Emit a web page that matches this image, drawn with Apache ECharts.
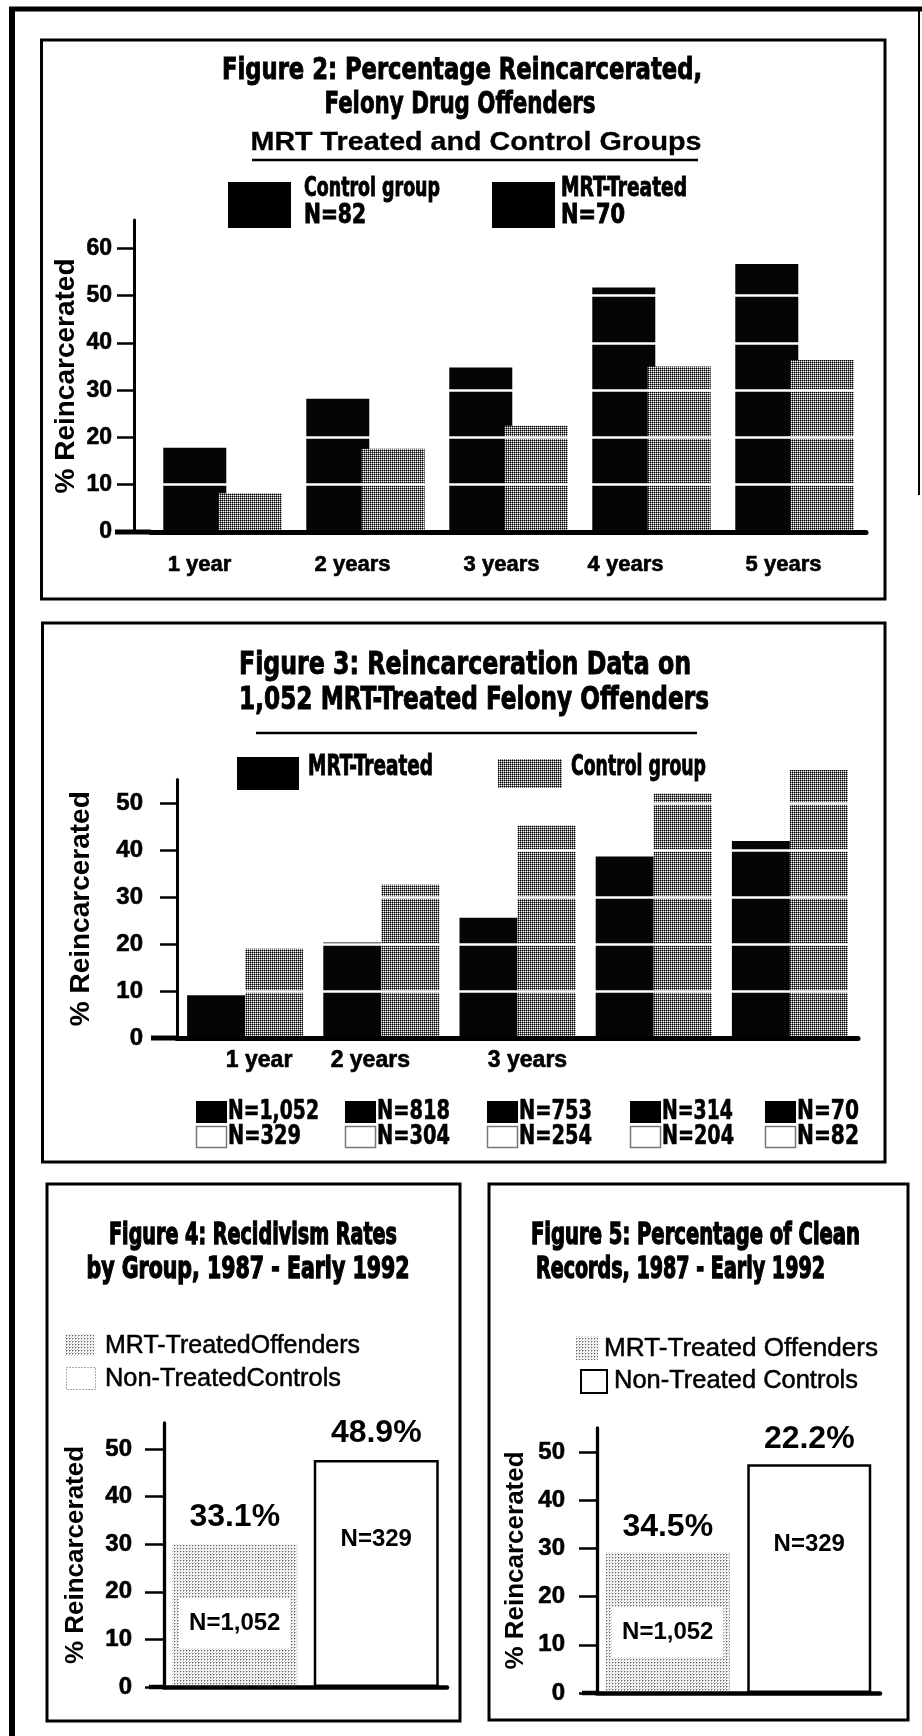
<!DOCTYPE html>
<html><head><meta charset="utf-8">
<script src="https://cdn.jsdelivr.net/npm/echarts@6/dist/echarts.min.js"></script>
<style>html,body{margin:0;padding:0;background:#fff;}#c{width:922px;height:1736px;}</style>
</head><body><div id="c"></div>
<script>
// ---------------- data ----------------
const fig2Categories = ['1 year', '2 years', '3 years', '4 years', '5 years'];
const fig2Control = [17.8, 28.2, 34.8, 51.7, 56.7];
const fig2Mrt = [8.2, 17.6, 22.5, 35.0, 36.4];
const fig2Ticks = [0, 10, 20, 30, 40, 50, 60];

const fig3Categories = ['1 year', '2 years', '3 years', '4 years', '5 years'];
const fig3AxisLabels = ['1 year', '2 years', '3 years', '', ''];
const fig3Mrt = [9.1, 20.3, 25.6, 38.6, 41.9];
const fig3Control = [19.0, 32.6, 45.2, 52.0, 57.0];
const fig3Ticks = [0, 10, 20, 30, 40, 50];
const fig3MrtN = ['N=1,052', 'N=818', 'N=753', 'N=314', 'N=70'];
const fig3ControlN = ['N=329', 'N=304', 'N=254', 'N=204', 'N=82'];

const fig4Groups = ['MRT-Treated Offenders', 'Non-Treated Controls'];
const fig4Values = [30.0, 47.7];
const fig4Pct = ['33.1%', '48.9%'];
const fig4N = ['N=1,052', 'N=329'];
const fig4Ticks = [0, 10, 20, 30, 40, 50];

const fig5Groups = ['MRT-Treated Offenders', 'Non-Treated Controls'];
const fig5Values = [29.2, 47.5];
const fig5Pct = ['34.5%', '22.2%'];
const fig5N = ['N=1,052', 'N=329'];
const fig5Ticks = [0, 10, 20, 30, 40, 50];

// ---------------- fonts ----------------
function hasFont(name) {
  const g = document.createElement('canvas').getContext('2d');
  const s = 'Figure 2: Percentage Reincarcerated 0123456789';
  g.font = 'bold 40px monospace';
  const a = g.measureText(s).width;
  g.font = 'bold 40px "' + name + '", monospace';
  return Math.abs(g.measureText(s).width - a) > 0.5;
}
const NARROW = hasFont('Liberation Sans Narrow') ? '"Liberation Sans Narrow"' :
  (hasFont('DejaVu Sans Condensed') ? '"DejaVu Sans Condensed"' : 'sans-serif');
const SANS = '"Liberation Sans", Arial, sans-serif';
const mctx = document.createElement('canvas').getContext('2d');

// ---------------- patterns ----------------
function pattern(size, cells) {
  const c = document.createElement('canvas');
  c.width = c.height = size;
  const g = c.getContext('2d');
  g.fillStyle = '#fff'; g.fillRect(0, 0, size, size);
  cells.forEach(([x, y, col]) => { g.fillStyle = col; g.fillRect(x, y, 1, 1); });
  return { image: c, repeat: 'repeat' };
}
const DARK = pattern(2, [[0, 0, '#000'], [1, 0, '#707070'], [0, 1, '#707070']]);
const LIGHT = pattern(3, [[0, 0, '#666'], [1, 0, '#bbb'], [0, 1, '#bbb'], [2, 2, '#ccc']]);

// ---------------- graphic helpers ----------------
function line(x1, y1, x2, y2, w, color) {
  return { type: 'line', silent: true, shape: { x1, y1, x2, y2 }, style: { stroke: color || '#000', lineWidth: w } };
}
function rect(x, y, w, h, fill, stroke, lw, dash) {
  const st = { fill: fill };
  if (stroke) { st.stroke = stroke; st.lineWidth = lw || 1; if (dash) st.lineDash = dash; }
  return { type: 'rect', silent: true, shape: { x, y, width: w, height: h }, style: st };
}
function text(str, x, y, o) {
  const weight = o.weight || 'bold';
  const fam = o.family || NARROW;
  const size = o.size;
  let sx = 1;
  if (o.width) {
    mctx.font = weight + ' ' + size + 'px ' + fam;
    sx = o.width / mctx.measureText(str).width;
  }
  const align = o.align || 'center';
  const st = {
    text: str, fill: '#000', fontSize: size, fontFamily: fam, fontWeight: weight,
    align: align, verticalAlign: 'middle', textAlign: align, textVerticalAlign: 'middle'
  };
  const heavy = o.heavy === undefined ? 0.9 : o.heavy;
  if (heavy > 0) { st.stroke = '#000'; st.lineWidth = heavy; }
  return { type: 'text', silent: true, x: x, y: y, scaleX: sx, z: 20, style: st };
}

// ---------------- layout ----------------
const L2 = { left: 151, top: 220, width: 715, height: 312, max: 66 };
const L3 = { left: 177, top: 779.5, width: 681, height: 258.5, max: 55 };
const L4 = { left: 164, top: 1423, width: 283, height: 264, max: 55.5 };
const L5 = { left: 597, top: 1428, width: 283, height: 265, max: 55 };

const G = [];
// outer page frame
G.push(line(12, 9, 12, 1736, 6));
G.push(line(9, 9, 922, 9, 5));
G.push(line(919, 9, 919, 495, 2));
// figure boxes
G.push(rect(41.5, 40, 843.5, 559, 'none', '#000', 3));
G.push(rect(42.5, 623, 842.5, 539, 'none', '#000', 3));
G.push(rect(47, 1184, 413, 537, 'none', '#000', 3));
G.push(rect(489, 1184, 419, 536, 'none', '#000', 3));

// Figure 2 header & legend
G.push(text('Figure 2: Percentage Reincarcerated,', 462, 71, { size: 30, width: 480 }));
G.push(text('Felony Drug Offenders', 460, 105, { size: 30, width: 271 }));
G.push(text('MRT Treated and Control Groups', 476, 143, { size: 25, family: SANS, width: 451, heavy: 0.3 }));
G.push(line(252, 160, 698, 160, 2.5));
G.push(rect(228, 182, 63, 46, '#000'));
G.push(text('Control group', 304, 189, { size: 26, align: 'left', width: 136 }));
G.push(text('N=82', 304, 216, { size: 26, align: 'left', width: 62 }));
G.push(rect(492, 182, 63, 46, '#000'));
G.push(text('MRT-Treated', 561, 189, { size: 26, align: 'left', width: 126 }));
G.push(text('N=70', 561, 216, { size: 26, align: 'left', width: 64 }));
G.push(line(115, L2.top + L2.height, L2.left, L2.top + L2.height, 5));

// Figure 3 header & legends
G.push(text('Figure 3: Reincarceration Data on', 465, 666, { size: 32, width: 452 }));
G.push(text('1,052 MRT-Treated Felony Offenders', 474, 701, { size: 32, width: 470 }));
G.push(line(256, 733, 697, 733, 2.5));
G.push(rect(237, 757, 62, 33, '#000'));
G.push(text('MRT-Treated', 308, 768, { size: 28, align: 'left', width: 125 }));
G.push(rect(498, 759, 64, 29, DARK));
G.push(text('Control group', 571, 768, { size: 28, align: 'left', width: 135 }));
const nLegendX = [196, 345, 487, 630, 765];
const nW1 = [91, 73, 73, 71, 62];
const nW2 = [73, 73, 73, 72, 62];
nLegendX.forEach((sx, i) => {
  G.push(rect(sx, 1101, 31, 22, '#000'));
  G.push(text(fig3MrtN[i], sx + 32, 1112, { size: 27, align: 'left', width: nW1[i], heavy: 0.6 }));
  G.push(rect(sx + 0.5, 1126.5, 30, 21, '#fff', '#777', 1.5));
  G.push(text(fig3ControlN[i], sx + 32, 1137, { size: 27, align: 'left', width: nW2[i], heavy: 0.6 }));
});
G.push(line(151, L3.top + L3.height, L3.left, L3.top + L3.height, 5));

// Figure 4 header & legend
G.push(text('Figure 4: Recidivism Rates', 253, 1236, { size: 30, width: 288, heavy: 1.3 }));
G.push(text('by Group, 1987 - Early 1992', 248, 1270, { size: 30, width: 323, heavy: 1.3 }));
G.push(rect(65, 1334, 29, 22, LIGHT));
G.push(text('MRT-TreatedOffenders', 105, 1346, { size: 25, family: SANS, weight: 'normal', align: 'left', width: 255, heavy: 0.5 }));
G.push(rect(66.5, 1367.5, 29, 22, '#fff', '#555', 1, [1, 2]));
G.push(text('Non-TreatedControls', 105, 1379, { size: 25, family: SANS, weight: 'normal', align: 'left', width: 236, heavy: 0.5 }));
G.push(line(149, L4.top + L4.height, L4.left, L4.top + L4.height, 4.5));

// Figure 5 header & legend
G.push(text('Figure 5: Percentage of Clean', 531, 1236, { size: 30, align: 'left', width: 329, heavy: 1.3 }));
G.push(text('Records, 1987 - Early 1992', 536, 1270, { size: 30, align: 'left', width: 289, heavy: 1.3 }));
G.push(rect(576, 1336, 22, 24, LIGHT));
G.push(text('MRT-Treated Offenders', 604, 1349, { size: 25, family: SANS, weight: 'normal', align: 'left', width: 274, heavy: 0.5 }));
G.push(rect(581, 1370, 26, 23, '#fff', '#000', 2));
G.push(text('Non-Treated Controls', 614, 1381, { size: 25, family: SANS, weight: 'normal', align: 'left', width: 244, heavy: 0.5 }));
G.push(line(582, L5.top + L5.height, L5.left, L5.top + L5.height, 4.5));

// ---------------- axes ----------------
function grid(L) { return { left: L.left, top: L.top, width: L.width, height: L.height, containLabel: false, outerBoundsMode: 'none' }; }
function yAxis(idx, L, ticks, o) {
  return {
    type: 'value', gridIndex: idx, min: 0, max: L.max, offset: o.offset || 0, z: 10,
    axisLine: { show: true, lineStyle: { color: '#000', width: o.lw || 3 } },
    axisTick: { show: true, length: o.tick, customValues: ticks, lineStyle: { color: '#000', width: 2.5 } },
    axisLabel: { customValues: ticks, margin: o.margin, color: '#000', fontFamily: SANS, fontWeight: 'bold', fontSize: o.fs || 24,
      textBorderColor: '#000', textBorderWidth: 0.6 },
    splitLine: { show: false },
    name: '% Reincarcerated', nameLocation: 'middle', nameRotate: 90, nameGap: o.gap, nameMoveOverlap: false,
    nameTextStyle: { color: '#000', fontFamily: SANS, fontWeight: 'bold', fontSize: o.nfs }
  };
}
function whiteLines(ticks) {
  return {
    silent: true, symbol: ['none', 'none'], label: { show: false }, animation: false,
    lineStyle: { color: '#fff', width: 2.5, type: 'solid', opacity: 1 },
    emphasis: { disabled: true },
    data: ticks.filter(v => v > 0).map(v => ({ yAxis: v }))
  };
}
// per-label horizontal nudges (label centre relative to category centre)
function shiftRich(shifts, fs) {
  const rich = {};
  shifts.forEach((s, i) => {
    rich['s' + i] = { padding: s >= 0 ? [0, 0, 0, 2 * s] : [0, -2 * s, 0, 0],
      color: '#000', fontFamily: SANS, fontWeight: 'bold', fontSize: fs, textBorderColor: '#000', textBorderWidth: 0.6 };
  });
  return rich;
}
const fig2Shift = [-23, -13, -7, -26, -11];
const fig3Shift = [14, -11, 10, 0, 0];

const option = {
  animation: false,
  backgroundColor: '#fff',
  grid: [grid(L2), grid(L3), grid(L4), grid(L5)],
  xAxis: [
    { type: 'category', gridIndex: 0, data: fig2Categories, z: 10,
      axisLine: { lineStyle: { color: '#000', width: 5 } }, axisTick: { show: false },
      axisLabel: { interval: 0, margin: 22, color: '#000', fontFamily: SANS, fontWeight: 'bold', fontSize: 22,
        formatter: (v, i) => '{s' + i + '|' + v + '}', rich: shiftRich(fig2Shift, 22) } },
    { type: 'category', gridIndex: 1, data: fig3Categories, z: 10,
      axisLine: { lineStyle: { color: '#000', width: 5 } }, axisTick: { show: false },
      axisLabel: { interval: 0, margin: 11, color: '#000', fontFamily: SANS, fontWeight: 'bold', fontSize: 23,
        formatter: (v, i) => fig3AxisLabels[i] ? '{s' + i + '|' + fig3AxisLabels[i] + '}' : '', rich: shiftRich(fig3Shift, 23) } },
    { type: 'category', gridIndex: 2, data: fig4Groups, z: 10,
      axisLine: { lineStyle: { color: '#000', width: 4.5 } }, axisTick: { show: false }, axisLabel: { show: false } },
    { type: 'category', gridIndex: 3, data: fig5Groups, z: 10,
      axisLine: { lineStyle: { color: '#000', width: 4.5 } }, axisTick: { show: false }, axisLabel: { show: false } }
  ],
  yAxis: [
    yAxis(0, L2, fig2Ticks, { offset: 17, tick: 17, margin: 22, gap: 54, nfs: 28, fs: 23 }),
    yAxis(1, L3, fig3Ticks, { tick: 17, margin: 34, gap: 82, nfs: 28 }),
    yAxis(2, L4, fig4Ticks, { tick: 19, margin: 32, gap: 75, nfs: 26, lw: 3.3 }),
    yAxis(3, L5, fig5Ticks, { tick: 18, margin: 32, gap: 68, nfs: 26, lw: 3.3 })
  ],
  series: [
    { name: 'Control group', type: 'bar', xAxisIndex: 0, yAxisIndex: 0, data: fig2Control,
      barWidth: 63, barGap: '-12%', clip: false, itemStyle: { color: '#050505' } },
    { name: 'MRT-Treated', type: 'bar', xAxisIndex: 0, yAxisIndex: 0, data: fig2Mrt,
      barWidth: 63, barGap: '-12%', clip: false, itemStyle: { color: DARK }, markLine: whiteLines(fig2Ticks) },

    { name: 'MRT-Treated', type: 'bar', xAxisIndex: 1, yAxisIndex: 1, data: fig3Mrt,
      barWidth: 58, barGap: '0%', clip: false, itemStyle: { color: '#050505' } },
    { name: 'Control group', type: 'bar', xAxisIndex: 1, yAxisIndex: 1, data: fig3Control,
      barWidth: 58, barGap: '0%', clip: false, itemStyle: { color: DARK }, markLine: whiteLines(fig3Ticks) },

    { type: 'bar', xAxisIndex: 2, yAxisIndex: 2, barWidth: 125, barGap: '-100%',
      data: fig4Values.map((v, i) => ({ value: v, itemStyle: i === 0 ? { color: LIGHT } : { color: '#fff', borderColor: '#000', borderWidth: 2.5 } })),
      label: { show: true, position: 'top', distance: 11, formatter: p => fig4Pct[p.dataIndex],
        color: '#000', fontFamily: SANS, fontWeight: 'bold', fontSize: 32 } },
    { type: 'bar', xAxisIndex: 2, yAxisIndex: 2, barWidth: 125, barGap: '-100%', silent: true,
      data: fig4Values, itemStyle: { color: 'rgba(0,0,0,0)' },
      label: { show: true, position: ['50%', 79], align: 'center', verticalAlign: 'middle', formatter: p => fig4N[p.dataIndex],
        color: '#000', fontFamily: SANS, fontWeight: 'bold', fontSize: 24, backgroundColor: '#fff', padding: [13, 10] } },

    { type: 'bar', xAxisIndex: 3, yAxisIndex: 3, barWidth: 124, barGap: '-100%',
      data: fig5Values.map((v, i) => ({ value: v, itemStyle: i === 0 ? { color: LIGHT } : { color: '#fff', borderColor: '#000', borderWidth: 2.5 } })),
      label: { show: true, position: 'top', distance: 9, formatter: p => fig5Pct[p.dataIndex],
        color: '#000', fontFamily: SANS, fontWeight: 'bold', fontSize: 32 } },
    { type: 'bar', xAxisIndex: 3, yAxisIndex: 3, barWidth: 124, barGap: '-100%', silent: true,
      data: fig5Values, itemStyle: { color: 'rgba(0,0,0,0)' },
      label: { show: true, position: ['50%', 80], align: 'center', verticalAlign: 'middle', formatter: p => fig5N[p.dataIndex],
        color: '#000', fontFamily: SANS, fontWeight: 'bold', fontSize: 24, backgroundColor: '#fff', padding: [13, 10] } }
  ],
  graphic: { elements: G }
};

const chart = echarts.init(document.getElementById('c'), null, { renderer: 'canvas', width: 922, height: 1736 });
chart.setOption(option);
</script>
</body></html>
